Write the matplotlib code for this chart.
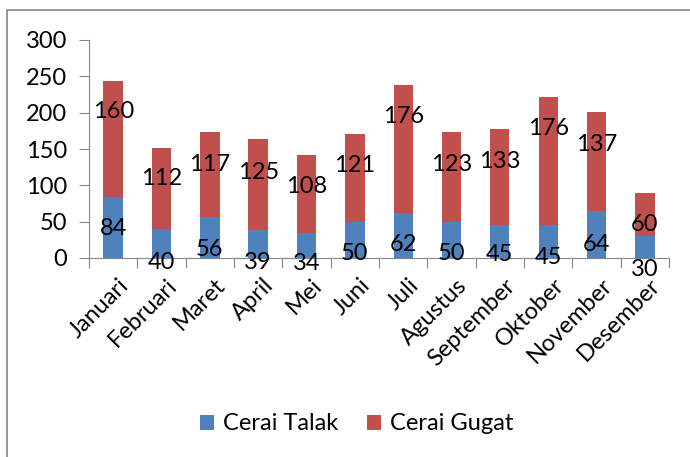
import matplotlib
matplotlib.use("Agg")
import matplotlib.pyplot as plt
from matplotlib.patches import Rectangle
from matplotlib.transforms import ScaledTranslation
import numpy as np

months = ['Januari', 'Februari', 'Maret', 'April', 'Mei', 'Juni', 'Juli',
          'Agustus', 'September', 'Oktober', 'November', 'Desember']
talak = [84, 40, 56, 39, 34, 50, 62, 50, 45, 45, 64, 30]
gugat = [160, 112, 117, 125, 108, 121, 176, 123, 133, 176, 137, 60]

# where the data labels sit in the original (y, in data units)
talak_lbl_y = [42.7, -2.8, 15.1, -2.8, -5.5, 8.3, 22, 8.3, 6.9, 4.1, 22, -12.4]
gugat_lbl_y = [203.7, 111.5, 132.1, 121.1, 100.5, 130.7, 196.8, 132.1, 134.9,
               180.3, 159.6, 49.5]

plt.rcParams['font.family'] = ['Lato', 'DejaVu Sans']
fs = 17
grey = '#868686'

fig = plt.figure(figsize=(6.9, 4.57), dpi=100)
ax = fig.add_axes([89/690, 1-258/457, 580/690, 218/457])

x = np.arange(len(months))
b1 = ax.bar(x, talak, width=0.4, color='#4F81BD', label='Cerai Talak')
b2 = ax.bar(x, gugat, width=0.4, bottom=talak, color='#C0504D', label='Cerai Gugat')
for i in range(len(months)):
    ax.text(x[i], talak_lbl_y[i], str(talak[i]), ha='center', va='center_baseline',
            fontsize=fs, clip_on=False)
    ax.text(x[i], gugat_lbl_y[i], str(gugat[i]), ha='center', va='center_baseline',
            fontsize=fs, clip_on=False)

ax.set_xlim(-0.5, len(months) - 0.5)
ax.set_ylim(0, 300)
ax.set_yticks(range(0, 301, 50))
ax.tick_params(axis='y', labelsize=fs, length=7, color=grey, pad=8.5)

ax.set_xticks(np.arange(-0.5, len(months), 1))
ax.set_xticklabels([])
ax.tick_params(axis='x', which='major', length=7, color=grey, direction='out')
ax.set_xticks(x, minor=True)
ax.set_xticklabels(months, minor=True, rotation=45, ha='right', va='top',
                   rotation_mode='anchor', fontsize=fs)
ax.tick_params(axis='x', which='minor', length=0, pad=12)
shift = ScaledTranslation(5/100, 0, fig.dpi_scale_trans)
for lbl in ax.get_xticklabels(minor=True):
    lbl.set_transform(lbl.get_transform() + shift)

for s in ['top', 'right']:
    ax.spines[s].set_visible(False)
for s in ['left', 'bottom']:
    ax.spines[s].set_color(grey)

fig.legend(handles=[b1, b2], loc='center', bbox_to_anchor=(0.517, 1-424/457),
           ncol=2, frameon=False, fontsize=fs, handlelength=0.6, handleheight=0.6,
           columnspacing=1.2, handletextpad=0.4)

fig.patches.append(Rectangle((7/690, -0.2), 1.2, 1.2 - 10/457,
                             transform=fig.transFigure, fill=False,
                             edgecolor=grey, linewidth=1.2))

fig.savefig('out.png', dpi=100)
